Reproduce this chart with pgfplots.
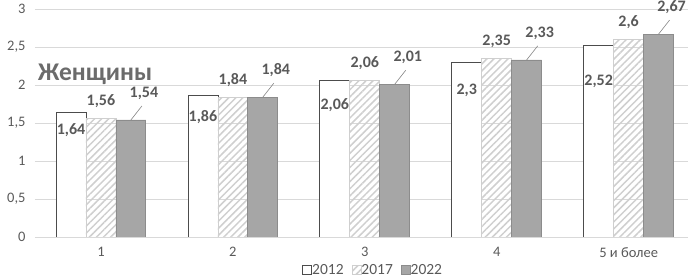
\documentclass[border=0pt]{standalone}
\usepackage{pgfplots}
\usepackage{pgfplotstable}
\pgfplotsset{compat=1.18}
\usepackage{fontspec}
\setmainfont{Carlito}
\usetikzlibrary{patterns.meta}
\definecolor{txt}{HTML}{595959}
\definecolor{gridc}{HTML}{D9D9D9}
\definecolor{darkbar}{HTML}{A6A6A6}
\definecolor{darkedge}{HTML}{8C8C8C}
\definecolor{hatch}{HTML}{CFCFCF}

\pgfplotstableread{
x a off b c
0 1.64 18 1.56 1.54
1 1.86 21 1.84 1.84
2 2.06 25 2.06 2.01
3 2.30 28 2.35 2.33
4 2.52 36 2.60 2.67
}\data

\begin{document}
\begin{tikzpicture}
\begin{axis}[
  name=ax,
  scale only axis, width=653pt, height=228pt,
  xmin=-0.5, xmax=4.45, ymin=0, ymax=3,
  ybar, bar width=0.227,
  xtick={0,1,2,3,4}, xticklabels={1,2,3,4,5 и более},
  ytick={0,0.5,1,1.5,2,2.5,3},
  ymajorgrids, grid style={draw=gridc, line width=0.8pt},
  axis x line*=bottom, axis y line*=left,
  x axis line style={draw=gridc, line width=0.8pt, -},
  y axis line style={draw=none},
  major tick length=0pt,
  /pgf/number format/use comma,
  /pgf/number format/assume math mode=true,
  tick label style={font=\fontsize{14.5}{16}\selectfont, text=txt},
  xticklabel style={yshift=-7pt},
  yticklabel style={xshift=-6pt},
  legend style={at={(0.518,-0.145)}, anchor=center, draw=none, fill=none,
    legend columns=3, font=\fontsize{15.5}{17}\selectfont, text=txt,
    /tikz/every even column/.append style={column sep=6pt},
    /tikz/every odd column/.append style={column sep=-2pt}},
  legend image code/.code={\draw[#1] (0pt,-4.5pt) rectangle (9pt,4.5pt);},
  nodes near coords={\pgfmathprintnumber{\pgfplotspointmeta}},
  every node near coord/.append style={font=\bfseries\fontsize{16}{18}\selectfont, text=txt, anchor=center, inner sep=1pt},
]
\addplot[draw=black!70, line width=0.8pt, fill=white, bar shift=-0.227,
  visualization depends on={\thisrow{off}\as\myoff},
  every node near coord/.append style={yshift=-\myoff pt}]
  table[x=x,y=a]{\data};
\addlegendentry{2012}
\addplot[draw=hatch, line width=0.8pt, fill=white,
  pattern={Lines[angle=45,distance=5pt,line width=1.5pt]}, pattern color=hatch, bar shift=0,
  every node near coord/.append style={yshift=17pt}]
  table[x=x,y=b]{\data};
\addlegendentry{2017}
\addplot[draw=darkedge, line width=0.8pt, fill=darkbar, bar shift=0.227,
  every node near coord/.append style={xshift=13pt, yshift=27pt,
    append after command={(\tikzlastnode.center) ++(-13pt,-27pt) edge[draw=darkedge, line width=0.6pt] ++(11pt,14pt)}}]
  table[x=x,y=c]{\data};
\addlegendentry{2022}
\node[anchor=west, inner sep=0pt, font=\bfseries\fontsize{25.5}{27}\selectfont, text=black!58] at (axis cs:-0.477,2.14) {Женщины};
\end{axis}
\pgfresetboundingbox
\path ([xshift=-35pt,yshift=-40pt]ax.south west) rectangle ([yshift=9pt]ax.north east);
\end{tikzpicture}
\end{document}
